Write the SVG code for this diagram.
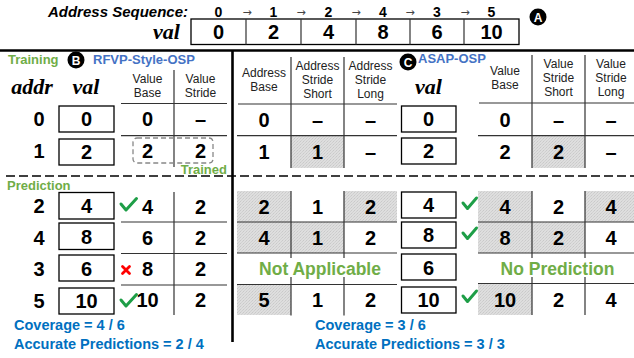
<svg xmlns="http://www.w3.org/2000/svg" width="634" height="358" viewBox="0 0 634 358">
  <defs>
    <pattern id="dots" width="3" height="3" patternUnits="userSpaceOnUse">
      <rect width="3" height="3" fill="#dedede"/>
      <rect x="0" y="0" width="1" height="1" fill="#c9c9c9"/>
      <rect x="2" y="1" width="1" height="1" fill="#cfcfcf"/>
      <rect x="1" y="2" width="1" height="1" fill="#d2d2d2"/>
    </pattern>
    <style>
      text { font-family: "Liberation Sans", Arial, sans-serif; }
      .num { font-size: 20px; font-weight: bold; text-anchor: middle; fill: #000; }
      .seq { font-size: 14px; font-weight: bold; text-anchor: middle; fill: #000; }
      .arr { font-family: "DejaVu Sans", sans-serif; font-size: 11px; text-anchor: middle; fill: #444; }
      .hdr { font-size: 12px; text-anchor: middle; fill: #222; }
      .green { font-size: 13px; font-weight: bold; fill: #70AD47; }
      .big-green { font-size: 17.5px; font-weight: bold; fill: #70AD47; text-anchor: middle; }
      .blue { font-size: 13px; font-weight: bold; fill: #4472C4; }
      .stat { font-size: 14.5px; font-weight: bold; fill: #0070C0; }
      .math { font-family: "Liberation Serif", "DejaVu Serif", serif; font-size: 22px; font-style: italic; font-weight: bold; fill: #000; }
      .seqtitle { font-size: 15px; font-style: italic; font-weight: bold; fill: #000; text-anchor: end; }
      .box { fill: #fff; stroke: #000; stroke-width: 1.3; }
      .grid { stroke: #333; stroke-width: 1.2; fill: none; }
      .shade { fill: url(#dots); }
      .tag circle { fill: #000; }
      .tag text { font-size: 12px; font-weight: bold; fill: #fff; text-anchor: middle; }
      .ok { fill: none; stroke: #1e9e47; stroke-width: 3; stroke-linecap: round; stroke-linejoin: round; }
      .bad { fill: none; stroke: #ff0000; stroke-width: 2.8; stroke-linecap: round; }
    </style>
  </defs>

  <rect width="634" height="358" fill="#fff"/>

  <!-- A: address sequence and values -->
  <g id="sequence">
    <text class="seqtitle" x="188" y="17">Address Sequence:</text>
    <text class="math" x="180" y="39" text-anchor="end">val</text>
    <text class="seq" x="218.5" y="16.5">0</text>
    <text class="seq" x="273.5" y="16.5">1</text>
    <text class="seq" x="328.5" y="16.5">2</text>
    <text class="seq" x="383" y="16.5">4</text>
    <text class="seq" x="437" y="16.5">3</text>
    <text class="seq" x="491.5" y="16.5">5</text>
    <text class="arr" x="247" y="16">→</text>
    <text class="arr" x="301" y="16">→</text>
    <text class="arr" x="356" y="16">→</text>
    <text class="arr" x="410" y="16">→</text>
    <text class="arr" x="465" y="16">→</text>
    <rect class="box" x="191" y="19" width="328" height="25.5"/>
    <path class="grid" stroke="#000" d="M246,19V44.5M301,19V44.5M356,19V44.5M410,19V44.5M464,19V44.5"/>
    <text class="num" x="218.5" y="39">0</text>
    <text class="num" x="273.5" y="39">2</text>
    <text class="num" x="328.5" y="39">4</text>
    <text class="num" x="383" y="39">8</text>
    <text class="num" x="437" y="39">6</text>
    <text class="num" x="491.5" y="39">10</text>
    <g class="tag"><circle cx="538" cy="17" r="8.5"/><text x="538" y="21.5">A</text></g>
  </g>

  <!-- frame lines -->
  <g id="connectors">
    <line x1="0" y1="50.5" x2="634" y2="50.5" stroke="#000" stroke-width="2.6"/>
    <line x1="232.5" y1="50" x2="232.5" y2="342" stroke="#000" stroke-width="2.6"/>
    <line x1="6" y1="176" x2="634" y2="176" stroke="#000" stroke-width="1.5" stroke-dasharray="9,4"/>
  </g>

  <!-- B: RFVP-style OSP -->
  <g id="rfvp">
    <text class="green" x="8" y="64">Training</text>
    <g class="tag"><circle cx="76" cy="60" r="8.5"/><text x="76" y="64.5">B</text></g>
    <text class="blue" x="93" y="64">RFVP-Style-OSP</text>
    <text class="math" x="32" y="94" text-anchor="middle">addr</text>
    <text class="math" x="86" y="94" text-anchor="middle">val</text>
    <text class="hdr" x="147.5" y="83">Value</text>
    <text class="hdr" x="147.5" y="97">Base</text>
    <text class="hdr" x="200.5" y="83">Value</text>
    <text class="hdr" x="200.5" y="97">Stride</text>

    <path class="grid" d="M121,103.5H227M121,135.7H227M121,222H227M121,253.5H227M121,285H227M174,70V167M174,192V315"/>
    <rect x="133" y="138" width="80" height="25" rx="4" fill="none" stroke="#888" stroke-width="1.3" stroke-dasharray="5,3"/>
    <text class="green" x="227" y="174" text-anchor="end">Trained</text>
    <text class="green" x="7" y="190">Prediction</text>

    <!-- address / value rows -->
    <text class="num" x="39" y="126">0</text>
    <rect class="box" x="59" y="106" width="55" height="26"/>
    <text class="num" x="86.5" y="126">0</text>
    <text class="num" x="147.5" y="126">0</text>
    <text class="num" x="200.5" y="126">–</text>

    <text class="num" x="39" y="158">1</text>
    <rect class="box" x="59" y="139" width="55" height="26"/>
    <text class="num" x="86.5" y="159">2</text>
    <text class="num" x="147.5" y="158">2</text>
    <text class="num" x="200.5" y="158">2</text>

    <text class="num" x="39" y="213">2</text>
    <rect class="box" x="59" y="192.5" width="55" height="26.5"/>
    <text class="num" x="86.5" y="213">4</text>
    <path class="ok" d="M121,204 L126,210 L136.5,198.5"/>
    <text class="num" x="147.5" y="214">4</text>
    <text class="num" x="200.5" y="214">2</text>

    <text class="num" x="39" y="244.5">4</text>
    <rect class="box" x="59" y="223" width="55" height="26.5"/>
    <text class="num" x="86.5" y="244">8</text>
    <text class="num" x="147.5" y="245">6</text>
    <text class="num" x="200.5" y="245">2</text>

    <text class="num" x="39" y="276">3</text>
    <rect class="box" x="59" y="255" width="55" height="26"/>
    <text class="num" x="86.5" y="275.5">6</text>
    <path class="bad" d="M122.5,266.5 L129.5,273.5 M129.5,266.5 L122.5,273.5"/>
    <text class="num" x="147.5" y="276">8</text>
    <text class="num" x="200.5" y="276">2</text>

    <text class="num" x="39" y="308">5</text>
    <rect class="box" x="59" y="288" width="55" height="26"/>
    <text class="num" x="86.5" y="308">10</text>
    <path class="ok" d="M121,300 L126,306 L136.5,294.5"/>
    <text class="num" x="147.5" y="307">10</text>
    <text class="num" x="200.5" y="307">2</text>

    <text class="stat" x="14" y="330">Coverage = 4 / 6</text>
    <text class="stat" x="14" y="349">Accurate Predictions = 2 / 4</text>
  </g>

  <!-- C: ASAP OSP -->
  <g id="asap">
    <g class="tag"><circle cx="408" cy="62" r="8.5"/><text x="408" y="66.5">C</text></g>
    <text class="blue" x="418" y="63">ASAP-OSP</text>

    <!-- shaded cells -->
    <rect class="shade" x="291" y="136" width="53" height="32"/>
    <rect class="shade" x="532" y="136" width="53" height="32"/>
    <rect class="shade" x="237" y="191" width="54" height="31"/>
    <rect class="shade" x="344" y="191" width="53" height="31"/>
    <rect class="shade" x="237" y="222" width="107" height="31"/>
    <rect class="shade" x="237" y="284" width="54" height="31"/>
    <rect class="shade" x="478" y="191" width="54" height="31"/>
    <rect class="shade" x="585" y="191" width="49" height="31"/>
    <rect class="shade" x="478" y="222" width="107" height="31"/>
    <rect class="shade" x="478" y="284" width="54" height="31"/>

    <!-- headers -->
    <text class="hdr" x="264" y="77">Address</text>
    <text class="hdr" x="264" y="91">Base</text>
    <text class="hdr" x="317.5" y="70">Address</text>
    <text class="hdr" x="317.5" y="84">Stride</text>
    <text class="hdr" x="317.5" y="98">Short</text>
    <text class="hdr" x="370.5" y="70">Address</text>
    <text class="hdr" x="370.5" y="84">Stride</text>
    <text class="hdr" x="370.5" y="98">Long</text>
    <text class="math" x="428.5" y="94" text-anchor="middle">val</text>
    <text class="hdr" x="505" y="75">Value</text>
    <text class="hdr" x="505" y="89">Base</text>
    <text class="hdr" x="558.5" y="68">Value</text>
    <text class="hdr" x="558.5" y="82">Stride</text>
    <text class="hdr" x="558.5" y="96">Short</text>
    <text class="hdr" x="611" y="68">Value</text>
    <text class="hdr" x="611" y="82">Stride</text>
    <text class="hdr" x="611" y="96">Long</text>

    <!-- grid -->
    <path class="grid" d="M238,104H397M237,135.7H397M237,222H397M237,253H397M237,284.5H397
      M291,57V168M344,57V168M291,191V258M344,191V258M291,277V315.5M344,277V315.5"/>
    <path class="grid" d="M479,103H634M478,135.7H634M478,222H634M478,253H634M478,283.5H634
      M532,55V168M585,55V168M532,191V258M585,191V258M532,277V315M585,277V315"/>

    <!-- row 0 -->
    <text class="num" x="264" y="127">0</text>
    <text class="num" x="317.5" y="127">–</text>
    <text class="num" x="370.5" y="127">–</text>
    <rect class="box" x="401.5" y="106" width="54.5" height="26"/>
    <text class="num" x="428.5" y="126">0</text>
    <text class="num" x="505" y="127">0</text>
    <text class="num" x="558.5" y="127">–</text>
    <text class="num" x="611" y="127">–</text>

    <!-- row 1 -->
    <text class="num" x="264" y="159">1</text>
    <text class="num" x="317.5" y="159">1</text>
    <text class="num" x="370.5" y="159">–</text>
    <rect class="box" x="401.5" y="138" width="54.5" height="26"/>
    <text class="num" x="428.5" y="158">2</text>
    <text class="num" x="505" y="159">2</text>
    <text class="num" x="558.5" y="159">2</text>
    <text class="num" x="611" y="159">–</text>

    <!-- address 2 -->
    <text class="num" x="264" y="214">2</text>
    <text class="num" x="317.5" y="214">1</text>
    <text class="num" x="370.5" y="214">2</text>
    <rect class="box" x="401.5" y="192" width="54.5" height="26"/>
    <text class="num" x="428.5" y="212">4</text>
    <path class="ok" d="M463,203 L467.5,208.5 L476.5,198"/>
    <text class="num" x="505" y="214">4</text>
    <text class="num" x="558.5" y="214">2</text>
    <text class="num" x="611" y="214">4</text>

    <!-- address 4 -->
    <text class="num" x="264" y="245">4</text>
    <text class="num" x="317.5" y="245">1</text>
    <text class="num" x="370.5" y="245">2</text>
    <rect class="box" x="401.5" y="222" width="54.5" height="26"/>
    <text class="num" x="428.5" y="242">8</text>
    <path class="ok" d="M463,233 L467.5,238.5 L476.5,228"/>
    <text class="num" x="505" y="245">8</text>
    <text class="num" x="558.5" y="245">2</text>
    <text class="num" x="611" y="245">4</text>

    <!-- address 3 -->
    <text class="big-green" x="320" y="275">Not Applicable</text>
    <rect class="box" x="401.5" y="254" width="54.5" height="26"/>
    <text class="num" x="428.5" y="274.5">6</text>
    <text class="big-green" x="557.5" y="275">No Prediction</text>

    <!-- address 5 -->
    <text class="num" x="264" y="307">5</text>
    <text class="num" x="317.5" y="307">1</text>
    <text class="num" x="370.5" y="307">2</text>
    <rect class="box" x="401.5" y="287" width="54.5" height="26"/>
    <text class="num" x="428.5" y="307">10</text>
    <path class="ok" d="M463,296 L467.5,301.5 L476.5,291"/>
    <text class="num" x="505" y="307">10</text>
    <text class="num" x="558.5" y="307">2</text>
    <text class="num" x="611" y="307">4</text>

    <text class="stat" x="315" y="330">Coverage = 3 / 6</text>
    <text class="stat" x="315" y="349">Accurate Predictions = 3 / 3</text>
  </g>
</svg>
